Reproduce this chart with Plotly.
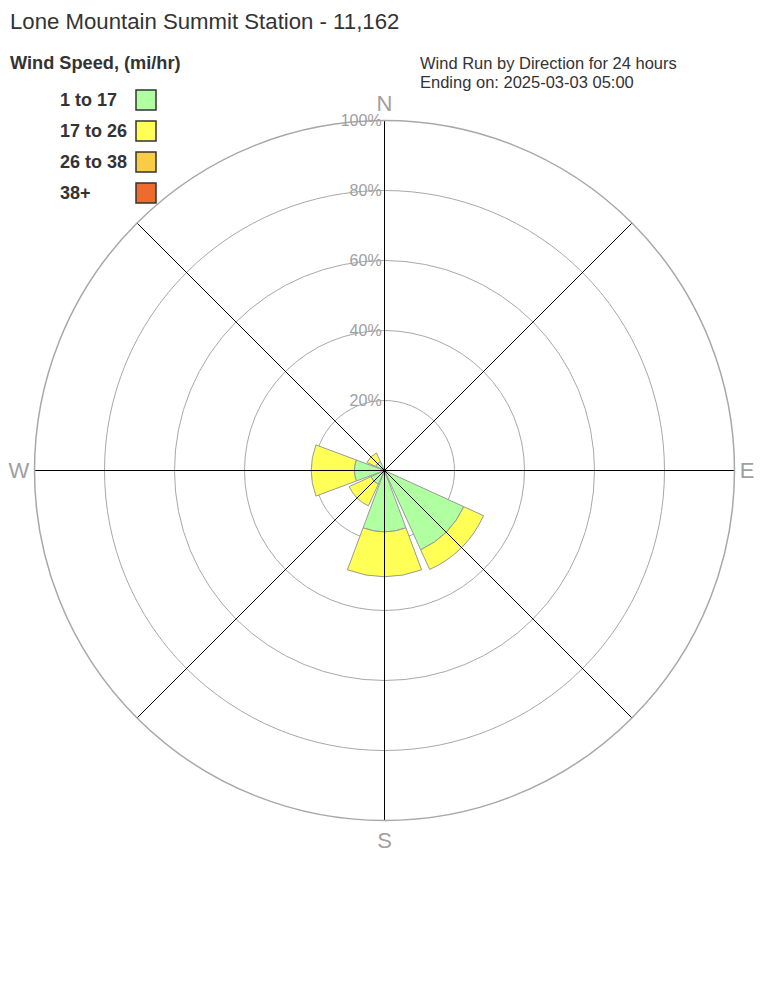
import plotly.graph_objects as go

# ---- data ----
directions = ["N", "NE", "E", "SE", "S", "SW", "W", "NW"]
direction_angles = [0, 45, 90, 135, 180, 225, 270, 315]
speed_bins = ["1 to 17", "17 to 26", "26 to 38", "38+"]
bin_colors = ["#b0ffa0", "#ffff55", "#f8cd45", "#ec6b2d"]
pct_1_17 = [0, 0, 0, 24.9, 17.5, 4.3, 8.6, 2.8]
pct_17_26 = [0, 0, 0, 6.2, 12.8, 6.8, 12.3, 2.7]
pct_26_38 = [0, 0, 0, 0, 0, 0, 0, 0]
pct_38_up = [0, 0, 0, 0, 0, 0, 0, 0]
series = [pct_1_17, pct_17_26, pct_26_38, pct_38_up]
radial_ticks = [20, 40, 60, 80, 100]
radial_ticktext = ["20%", "40%", "60%", "80%", "100%"]
cardinal_angles = [0, 90, 180, 270]
cardinal_labels = ["N", "E", "S", "W"]

title_text = "Lone Mountain Summit Station - 11,162"
legend_title = "Wind Speed, (mi/hr)"
info_lines = ["Wind Run by Direction for 24 hours", "Ending on: 2025-03-03 05:00"]

# page has an 8px body margin -> figure is 760x1000 placed at (8,8)
OFF = 8
FW, FH = 760, 1000
FONT = "Liberation Sans, Arial, sans-serif"
GRID = "#a8a8a8"
TXT = "#333333"


def fx(px):
    return (px - OFF) / FW


def fy(py):
    return 1 - (py - OFF) / FH


fig = go.Figure()
for name, vals, col in zip(speed_bins, series, bin_colors):
    fig.add_trace(go.Barpolar(
        r=vals, theta=direction_angles, name=name,
        marker=dict(color=col, line=dict(color="#999999", width=1)),
        showlegend=False, hoverinfo="r+theta+name",
    ))

# spokes drawn above the bars
for ang in direction_angles:
    fig.add_trace(go.Scatterpolar(
        r=[0, 100], theta=[ang, ang], mode="lines",
        line=dict(color="black", width=1), showlegend=False, hoverinfo="skip",
    ))

cx, cy, R = 384.5, 470.5, 350
fig.update_layout(
    width=FW, height=FH,
    margin=dict(l=0, r=0, t=0, b=0),
    paper_bgcolor="white",
    font=dict(family=FONT),
    polar=dict(
        domain=dict(x=[fx(cx - R), fx(cx + R)], y=[fy(cy + R), fy(cy - R)]),
        bgcolor="white",
        barmode="stack",
        bargap=0.09,
        radialaxis=dict(
            range=[0, 100], tickvals=radial_ticks, ticktext=radial_ticktext,
            angle=90, tickangle=90, side="counterclockwise",
            showline=False, ticks="", gridcolor=GRID, gridwidth=1.4,
            tickfont=dict(size=16, color="#a0a0a0", family=FONT),
        ),
        angularaxis=dict(
            rotation=90, direction="clockwise",
            tickmode="array", tickvals=cardinal_angles, ticktext=cardinal_labels,
            showgrid=False, ticks="", showline=True, linecolor=GRID, linewidth=1.5,
            tickfont=dict(size=22, color="#a0a0a0", family=FONT),
        ),
    ),
)

ann = []
ann.append(dict(text=title_text, x=fx(8), y=fy(21), xanchor="left", yanchor="middle",
                font=dict(size=22.2, color=TXT)))
ann.append(dict(text="<b>" + legend_title + "</b>", x=fx(8), y=fy(63), xanchor="left",
                yanchor="middle", font=dict(size=18.2, color=TXT)))
for i, line in enumerate(info_lines):
    ann.append(dict(text=line, x=fx(418), y=fy(63 + 19 * i), xanchor="left", yanchor="middle",
                    font=dict(size=16.5, color=TXT)))
shapes = []
for i, (name, col) in enumerate(zip(speed_bins, bin_colors)):
    ly = 100 + 31 * i
    ann.append(dict(text="<b>" + name + "</b>", x=fx(58), y=fy(ly), xanchor="left",
                    yanchor="middle", font=dict(size=18, color=TXT)))
    shapes.append(dict(type="rect", xref="paper", yref="paper",
                       x0=fx(136), x1=fx(156), y0=fy(ly - 10), y1=fy(ly + 10),
                       fillcolor=col, line=dict(color=TXT, width=1.5)))
for a in ann:
    a.update(xref="paper", yref="paper", showarrow=False)
fig.update_layout(annotations=ann, shapes=shapes)

fig.write_html("out.html")
